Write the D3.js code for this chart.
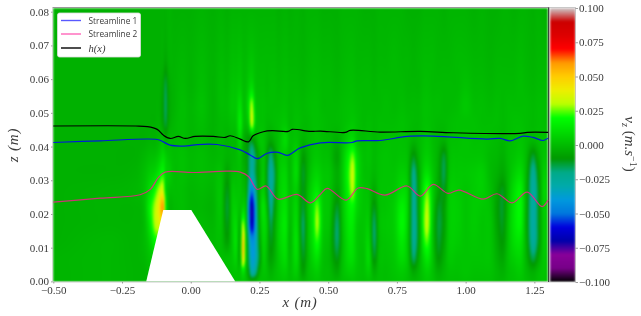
<!DOCTYPE html>
<html>
<head>
<meta charset="utf-8">
<script src="https://cdn.jsdelivr.net/npm/d3@7"></script>
<style>
html,body{margin:0;padding:0;background:#fff;overflow:hidden}
#wrap{position:relative;width:641px;height:316px}
canvas,svg{position:absolute;left:0;top:0}
#heat{filter:blur(.9px)}
#chart{filter:blur(.3px)}
text{font-family:"Liberation Serif",serif;fill:#3a3a3a}
</style>
</head>
<body>
<div id="wrap"><canvas id="heat" width="641" height="316"></canvas><div id="mask"></div><svg id="chart" width="641" height="316"></svg></div>
<script>
// Vertical levels of the velocity field (m)
const zLevels = [0,.003,.007,.012,.017,.022,.027,.032,.037,.042,.047,.052,.058,.066,.0812];
// Horizontal positions of the field columns (m)
const xLevels = [-.5,-.3,-.2,-.17,-.15,-.13,-.115,-.1,-.092,-.08,-.06,-.03,0,.04,.08,.11,.133,.15,.165,.18,.19,.2,.212,.222,.235,.25,.265,.278,.29,.305,.32,.345,.36,.385,.408,.425,.445,.46,.48,.505,.533,.55,.575,.59,.605,.63,.648,.667,.685,.71,.74,.769,.79,.81,.83,.85,.862,.88,.9,.922,.94,.97,1,1.03,1.06,1.09,1.115,1.135,1.155,1.175,1.2,1.22,1.245,1.265,1.285,1.3];
// v_z, one array per x position, bottom to top (10^-3 m/s)
const vzColumns = [
[-2,-2,-2,-3,-3,-3,-3,-3,-3,-3,-3,-3,-3,-3,-3],
[-1,-1,-1,-1,-2,-2,-2,-3,-3,-3,-3,-3,-3,-3,-3],
[-2,-2,-2,-2,-2,-2,-1,-2,-3,-3,-3,-3,-3,-3,-3],
[-2,-2,-1,0,0,1,2,1,-1,-3,-3,-3,-3,-3,-3],
[-2,0,2,6,12,16,10,5,1,-2,-3,-3,-3,-3,-3],
[0,0,4,18,30,30,20,8,2,-2,-3,-3,-3,-3,-3],
[0,0,4,18,35,42,30,14,5,0,-2,-3,-3,-3,-3],
[0,0,4,20,40,60,36,20,10,2,-8,-9,-7,-3,-3],
[0,0,0,4,10,20,10,8,6,-4,-15,-18,-16,-6,-3],
[0,0,0,0,0,0,2,6,3,0,-5,-6,-5,-2,-2],
[0,0,0,0,0,0,1,1,1,0,-1,-2,-2,-2,-3],
[0,0,0,0,0,1,1,2,2,1,1,1,0,-1,-3],
[0,0,0,0,0,-1,-1,0,0,-1,-1,-1,-2,-2,-3],
[0,0,0,0,0,-1,0,1,1,0,1,2,1,0,-2],
[0,0,0,0,-1,-2,-1,0,-1,-2,-2,-2,-2,-2,-3],
[1,1,1,1,2,3,3,2,0,0,0,1,1,0,-2],
[2,1,1,-8,-12,-14,-12,-7,-2,-2,0,1,0,-1,-3],
[2,2,3,3,4,4,3,0,-1,0,2,4,3,1,-2],
[2,3,8,12,10,6,3,1,0,0,3,4,3,1,-2],
[2,2,-3,-4,-2,2,3,2,3,10,16,12,5,2,-2],
[3,14,50,54,30,6,0,-2,-4,-2,3,2,1,0,-2],
[2,3,10,10,5,2,-2,-4,-6,-6,0,2,1,0,-2],
[-2,-12,-20,-26,-40,-44,-28,-18,-16,-10,8,14,6,2,-2],
[-3,-30,-38,-44,-68,-72,-50,-30,-25,-10,36,32,10,3,-2],
[-2,-24,-34,-36,-40,-38,-26,-16,-16,-5,6,5,2,1,-2],
[2,-4,-12,-8,-4,-2,-3,-5,-3,3,2,2,1,0,-2],
[1,3,6,8,10,12,6,4,3,3,2,2,1,0,-2],
[1,1,-1,1,3,-2,-10,-12,-8,-2,0,1,0,0,-2],
[0,-3,-8,-12,-16,-22,-26,-26,-20,-6,0,1,1,0,-2],
[1,0,-3,-5,-6,-10,-14,-16,-10,-2,1,1,1,0,-2],
[2,3,4,6,6,5,4,3,2,2,2,1,0,-1,-3],
[3,6,10,12,14,12,10,8,5,10,4,2,1,0,-2],
[1,1,0,-1,0,1,1,0,0,2,0,0,0,-1,-3],
[2,6,10,12,10,8,6,10,8,3,2,1,0,-1,-2],
[-2,-8,-12,-16,-18,-14,-12,-13,-9,-2,0,0,-1,-2,-3],
[0,0,-1,0,0,1,0,-2,-3,0,0,1,0,-1,-2],
[2,4,8,12,14,14,10,6,3,2,2,2,1,0,-2],
[3,6,12,22,30,26,14,8,4,3,2,2,1,0,-2],
[1,1,2,4,6,6,5,4,2,1,1,0,0,-1,-3],
[0,0,-1,0,2,3,3,3,1,0,0,0,0,-1,-3],
[-1,-6,-12,-18,-18,-13,-6,-4,-7,-3,0,0,-1,-2,-3],
[1,1,0,-1,0,1,2,3,2,1,1,1,0,-1,-2],
[2,6,10,12,14,16,20,22,18,8,3,2,1,0,-2],
[3,6,10,12,14,18,30,34,26,10,4,2,1,0,-2],
[2,3,4,4,5,8,10,12,10,3,2,1,0,-1,-2],
[1,2,2,3,3,3,3,2,2,1,0,0,0,-1,-3],
[2,6,10,8,5,3,2,2,3,2,1,0,0,-1,-3],
[0,-4,-12,-18,-18,-12,-5,-1,0,0,0,0,-1,-2,-3],
[1,1,1,0,1,1,2,2,2,1,1,0,0,-1,-2],
[1,1,2,3,4,3,3,3,3,2,1,1,0,-1,-2],
[2,3,4,5,6,6,4,3,2,2,1,0,0,0,-2],
[3,5,10,14,18,16,10,6,3,2,2,1,0,-1,-2],
[1,2,3,3,5,6,5,2,1,1,1,0,-1,-1,-3],
[-1,-6,-18,-24,-25,-25,-24,-22,-12,-2,0,0,-1,-2,-3],
[0,-1,-4,-8,-8,-6,-6,-5,-2,0,0,0,-1,-1,-3],
[3,5,10,20,26,24,18,10,5,3,2,2,1,0,-2],
[4,7,14,24,32,30,24,12,6,4,2,2,1,0,-2],
[2,2,3,3,4,6,6,4,2,1,1,1,0,0,-2],
[-1,-4,-10,-13,-14,-12,-6,-4,-3,-1,0,1,0,-1,-2],
[0,-1,-3,-6,-8,-8,-12,-16,-14,-3,0,0,0,-1,-3],
[1,2,4,5,5,5,4,2,1,1,1,0,0,-1,-2],
[1,2,3,5,6,6,5,4,3,2,2,1,0,0,-2],
[2,3,3,3,3,3,3,4,3,3,2,4,2,0,-2],
[1,2,3,4,5,5,5,5,3,2,2,1,0,-1,-3],
[1,2,3,3,3,4,6,6,3,2,1,1,0,-1,-2],
[1,2,3,3,3,2,1,0,0,1,1,0,-1,-2,-3],
[-1,-1,-3,-5,-7,-8,-6,-3,-1,0,1,1,0,-1,-3],
[-1,-3,-6,-10,-12,-13,-12,-6,-3,-1,0,0,0,-1,-2],
[1,1,2,2,2,1,0,0,1,1,1,1,0,-1,-2],
[2,3,6,10,12,12,10,6,3,2,2,1,0,-1,-3],
[3,5,8,12,17,18,16,10,5,3,2,1,1,0,-2],
[1,0,-2,-3,-4,-3,-2,-1,0,1,1,1,0,-1,-2],
[-1,-4,-16,-26,-28,-28,-27,-24,-14,-1,0,0,-1,-2,-3],
[1,0,-6,-12,-12,-12,-12,-9,-4,1,1,1,0,-1,-2],
[2,3,4,5,5,6,8,6,3,2,1,1,0,-1,-3],
[0,1,1,2,2,2,2,2,1,1,0,0,0,-1,-3]
];
// Obstacle outline (m)
const obstacleX = [-.162,-.1,.002,.162];
const obstacleZ = [0,.0212,.0212,0];
// Streamlines and free surface (m)
const s1X = [-.5,-.329,-.122,-.1,-.075,-.013,.024,.096,.18,.216,.242,.278,.318,.351,.398,.471,.587,.605,.689,.787,.882,1.078,1.125,1.162,1.209,1.245,1.282,1.3];
const s1Z = [.0412,.0417,.0421,.0414,.0404,.0402,.0406,.0406,.039,.0375,.0364,.038,.0383,.0374,.0396,.0411,.0412,.0417,.0418,.043,.0431,.0422,.0424,.0417,.0431,.0427,.0418,.0425];
const s2X = [-.5,-.329,-.184,-.147,-.118,-.093,.009,.133,.18,.21,.242,.274,.318,.387,.435,.471,.496,.565,.609,.642,.707,.787,.835,.882,.936,.976,1.064,1.114,1.169,1.224,1.278,1.3];
const s2Z = [.0235,.0247,.0257,.0273,.0308,.0324,.0323,.0327,.0324,.0311,.0273,.0283,.0244,.0258,.0233,.0258,.0276,.0241,.0277,.0275,.0256,.0283,.0253,.0288,.0261,.0271,.0244,.026,.0233,.0265,.0222,.0241];
const hX = [-.5,-.2,-.158,-.122,-.1,-.075,-.045,-.02,.016,.082,.125,.143,.18,.21,.227,.264,.296,.355,.369,.435,.471,.562,.58,.689,.835,.955,1.198,1.224,1.3];
const hZ = [.0461,.0461,.0459,.0451,.0434,.0424,.043,.0424,.043,.043,.0427,.0432,.0422,.0414,.0432,.0444,.0447,.0445,.0451,.0445,.0446,.0442,.0448,.0443,.0445,.0441,.0439,.0442,.0442];
// Tick labels
const xTicks = [-.5,-.25,0,.25,.5,.75,1,1.25];
const zTicks = [0,.01,.02,.03,.04,.05,.06,.07,.08];
const cTicks = [-.1,-.075,-.05,-.025,0,.025,.05,.075,.1];
const legendLabels = ["Streamline 1","Streamline 2"];
// nipy_spectral colour stops
const cmapPos = d3.range(21).map(i=>i*.05);
const cmapR = [0,.4667,.5333,0,0,0,0,0,0,0,0,0,0,.7333,.9333,1,1,1,.8667,.8,.8];
const cmapG = [0,0,0,0,0,.4667,.6,.6667,.6667,.6,.7333,.8667,1,1,.9333,.8,.6,0,0,0,.8];
const cmapB = [0,.5333,.6,.6667,.8667,.8667,.8667,.6667,.5333,0,0,0,0,0,0,0,0,0,0,0,.8];

const xScale = d3.scaleLinear().domain([-.5,1.3]).range([53.3,548.1]);
const zScale = d3.scaleLinear().domain([0,.08]).range([281.4,11.7]);
const cScale = d3.scaleLinear().domain([-.1,.1]).range([282,8]);
const tNorm = d3.scaleLinear().domain([-.1,.1]).range([0,1]).clamp(true);
const rS = d3.scaleLinear().domain(cmapPos).range(cmapR);
const gS = d3.scaleLinear().domain(cmapPos).range(cmapG);
const bS = d3.scaleLinear().domain(cmapPos).range(cmapB);
const rgb = v => { const t = tNorm(v); return [rS(t)*255, gS(t)*255, bS(t)*255]; };

// Display-only smoothing between the grid values
function hermite(xs, ys, x){
  let i = d3.bisectRight(xs, x) - 1;
  i = Math.max(0, Math.min(xs.length-2, i));
  const h = xs[i+1]-xs[i], t = (x-xs[i])/h;
  const m = k => (ys[Math.min(k+1,ys.length-1)]-ys[Math.max(k-1,0)])/(xs[Math.min(k+1,xs.length-1)]-xs[Math.max(k-1,0)]);
  const t2=t*t, t3=t2*t;
  return (2*t3-3*t2+1)*ys[i]+(t3-2*t2+t)*h*m(i)+(-2*t3+3*t2)*ys[i+1]+(t3-t2)*h*m(i+1);
}

const ctx = document.getElementById('heat').getContext('2d');
const x0=53, x1=548, y0=8, y1=282;
const img = ctx.createImageData(x1-x0, y1-y0);
for(let px=x0; px<x1; px++){
  const xv = xScale.invert(px+.5);
  const col = zLevels.map((_,k)=>hermite(xLevels, vzColumns.map(c=>c[k]), xv));
  for(let py=y0; py<y1; py++){
    const v = hermite(zLevels, col, zScale.invert(py+.5))/1000;
    const c = rgb(v), o = ((py-y0)*(x1-x0)+(px-x0))*4;
    img.data[o]=c[0]; img.data[o+1]=c[1]; img.data[o+2]=c[2]; img.data[o+3]=255;
  }
}
ctx.putImageData(img, x0, y0);
// colour bar
for(let py=8; py<282; py++){
  const c = rgb(cScale.invert(py+.5));
  ctx.fillStyle = `rgb(${c.map(Math.round).join(',')})`;
  ctx.fillRect(550, py, 25.5, 1);
}

const svg = d3.select('#chart');
// canvas blur bleed cover around the field
[[0,0,641,7.5],[0,282,641,34],[0,0,52.5,316],[575.5,0,66,316]].forEach(r=>
  svg.append('rect').attr('x',r[0]).attr('y',r[1]).attr('width',r[2]).attr('height',r[3]).attr('fill','#fff'));
// obstacle
svg.append('path').attr('fill','#fff')
  .attr('d', d3.line().x(i=>xScale(obstacleX[i])).y(i=>zScale(obstacleZ[i]))(d3.range(4))+'Z');

// spines
svg.append('line').attr('x1',52.5).attr('x2',549).attr('y1',7.5).attr('y2',7.5).attr('stroke','#999');
svg.append('line').attr('x1',52.5).attr('x2',549).attr('y1',282).attr('y2',282).attr('stroke','#ccc');
svg.append('line').attr('x1',52.5).attr('x2',52.5).attr('y1',7.5).attr('y2',282).attr('stroke','#ccc').attr('stroke-opacity',.7);
svg.append('line').attr('x1',548.6).attr('x2',548.6).attr('y1',7.5).attr('y2',282).attr('stroke','#333');
svg.append('rect').attr('x',549.5).attr('y',7.5).attr('width',26).attr('height',274.5).attr('fill','none').attr('stroke','#aaa').attr('stroke-width',.6);

// lines
const lineOf = (xs,zs) => d3.line().curve(d3.curveCatmullRom.alpha(.5)).x(i=>xScale(xs[i])).y(i=>zScale(zs[i]))(d3.range(xs.length));
const series = [[s1X,s1Z,'#0000ff',.85],[s2X,s2Z,'#ff1493',.8],[hX,hZ,'#000',1]];
series.forEach(s=>svg.append('path').attr('d',lineOf(s[0],s[1])).attr('fill','none')
  .attr('stroke',s[2]).attr('stroke-opacity',s[3]).attr('stroke-width',1.2));

// axes
const fmt2 = d => d3.format('.2f')(d).replace('-','\u2212');
const fmt3 = d => d3.format('.3f')(d).replace('-','\u2212');
const styleAxis = g => { g.select('.domain').remove();
  g.selectAll('line').attr('stroke','#777').attr('stroke-width',.7);
  g.selectAll('text').attr('font-size',11).attr('font-family','"Liberation Serif",serif').attr('fill','#3a3a3a'); };
svg.append('g').attr('transform','translate(0,282)')
  .call(d3.axisBottom(xScale).tickValues(xTicks).tickFormat(fmt2).tickSize(1.5).tickPadding(3)).call(styleAxis);
svg.append('g').attr('transform','translate(52.5,0)')
  .call(d3.axisLeft(zScale).tickValues(zTicks).tickFormat(fmt2).tickSize(1.5).tickPadding(2)).call(styleAxis);
svg.append('g').attr('transform','translate(575.5,0)')
  .call(d3.axisRight(cScale).tickValues(cTicks).tickFormat(fmt3).tickSize(2.5).tickPadding(1)).call(styleAxis);

// axis titles
const mathTitle = (sel, letter) => {
  sel.append('tspan').attr('font-style','italic').text(letter+' (m)');
};
svg.append('text').attr('x',300).attr('y',307).attr('text-anchor','middle').attr('font-size',15)
  .attr('letter-spacing',.8).call(mathTitle,'x');
svg.append('text').attr('transform','translate(18,145) rotate(-90)').attr('text-anchor','middle').attr('font-size',15)
  .attr('letter-spacing',.8).call(mathTitle,'z');
const cl = svg.append('text').attr('transform','translate(625,144) rotate(90)').attr('text-anchor','middle').attr('font-size',15);
cl.append('tspan').attr('font-style','italic').text('v');
cl.append('tspan').attr('font-style','italic').attr('font-size',10).attr('dy',3).text('z');
cl.append('tspan').attr('dy',-3).text(' (');
cl.append('tspan').attr('font-style','italic').text('m.s');
cl.append('tspan').attr('font-size',10).attr('dy',-5).text('\u22121');
cl.append('tspan').attr('dy',5).text(')');

// legend
const lg = svg.append('g');
lg.append('rect').attr('x',57.5).attr('y',13).attr('width',83).attr('height',44).attr('rx',2)
  .attr('fill','#fff').attr('stroke','#ddd').attr('stroke-width',.8);
[20.5,34,48].forEach((y,i)=>{
  lg.append('line').attr('x1',61).attr('x2',81).attr('y1',y).attr('y2',y)
    .attr('stroke',series[i][2]).attr('stroke-opacity',i<2?.65:1).attr('stroke-width',1.4);
  if(i<2) lg.append('text').attr('x',88.5).attr('y',y+3).attr('font-size',8.3)
    .style('font-family','"Open Sans",sans-serif').text(legendLabels[i]);
});
lg.append('text').attr('x',88.5).attr('y',51.5).attr('font-size',10.5).attr('font-style','italic').text('h(x)');
</script>
</body>
</html>
